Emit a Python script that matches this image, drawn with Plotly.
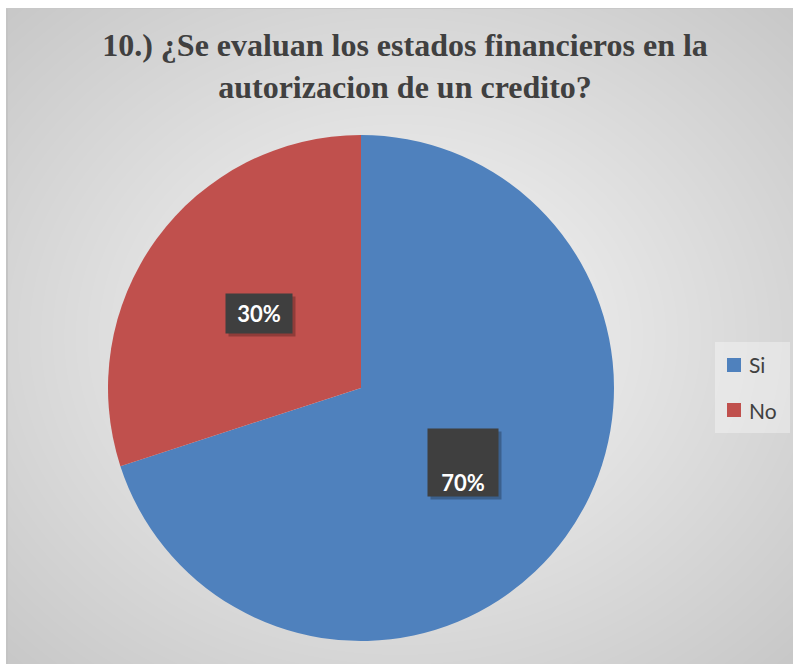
import base64
import math
import struct
import zlib

import numpy as np
import plotly.graph_objects as go

# ---------------- data ----------------
labels = ["Si", "No"]
values = [70, 30]
colors = ["#4F81BD", "#C0504D"]
title_lines = ["10.) ¿Se evaluan los estados financieros en la", "autorizacion de un credito?"]

# ---------------- layout constants ----------------
W, H = 793, 664
CX, CY, R = 361, 388, 253  # pie centre / radius in pixels

# ---------------- background radial gradient image ----------------
def png_uri(arr):
    h, w, _ = arr.shape
    raw = b"".join(b"\x00" + arr[i].tobytes() for i in range(h))

    def chunk(tag, data):
        c = struct.pack(">I", len(data)) + tag + data
        return c + struct.pack(">I", zlib.crc32(tag + data) & 0xFFFFFFFF)

    png = b"\x89PNG\r\n\x1a\n"
    png += chunk(b"IHDR", struct.pack(">IIBBBBB", w, h, 8, 2, 0, 0, 0))
    png += chunk(b"IDAT", zlib.compress(raw, 9))
    png += chunk(b"IEND", b"")
    return "data:image/png;base64," + base64.b64encode(png).decode()

BX0, BY0 = 6, 8
bw, bh = W - BX0, H - BY0
yy, xx = np.mgrid[0:bh, 0:bw]
gcx, gcy = bw * 0.5, bh * 0.5
t = np.sqrt(((xx - gcx) / (bw / 2)) ** 2 + ((yy - gcy) / (bh / 2)) ** 2)
g = np.clip(248 - 34 * t, 190, 250).astype(np.uint8)
img = np.stack([g, g, g], axis=-1)
img[:, 0:2] = 196
img[0:1, :] = 200
bg_uri = png_uri(img)

fig = go.Figure()
fig.add_trace(
    go.Pie(
        labels=labels,
        values=values,
        sort=False,
        direction="clockwise",
        rotation=0,
        marker=dict(colors=colors, line=dict(width=0)),
        textinfo="none",
        hoverinfo="label+percent",
        showlegend=False,
        domain=dict(
            x=[(CX - R) / W, (CX + R) / W],
            y=[1 - (CY + R) / H, 1 - (CY - R) / H],
        ),
    )
)

# ---------------- data labels (computed from values) ----------------
total = sum(values)
cum = 0
annotations = []
box_sizes = [(70, 67, "bottom"), (66, 39, "middle")]
for i, v in enumerate(values):
    theta = 2 * math.pi * (cum + v / 2) / total
    cum += v
    px = CX + 0.5 * R * math.sin(theta)
    py = CY - 0.5 * R * math.cos(theta)
    pct = f"{round(100 * v / total)}%"
    bw_, bh_, va = box_sizes[i]
    # shadow
    annotations.append(
        dict(
            x=px / W, y=1 - py / H, xref="paper", yref="paper",
            xanchor="center", yanchor="middle",
            text="", showarrow=False, width=bw_, height=bh_,
            bgcolor="rgba(0,0,0,0.25)", borderpad=0,
            xshift=3, yshift=-3,
        )
    )
    annotations.append(
        dict(
            x=px / W, y=1 - py / H, xref="paper", yref="paper",
            xanchor="center", yanchor="middle",
            text=f"<b>{pct}</b>", showarrow=False, width=bw_, height=bh_,
            valign=va, bgcolor="#3f3f3f", borderpad=0,
            font=dict(family="Lato, Open Sans, sans-serif", size=22, color="white"),
        )
    )

# ---------------- legend (manual, from labels/colors) ----------------
shapes = [
    dict(type="rect", xref="paper", yref="paper",
         x0=715 / W, x1=790 / W, y0=1 - 433 / H, y1=1 - 342 / H,
         fillcolor="rgba(255,255,255,0.35)", line=dict(width=0), layer="below"),
]
leg_y = [365, 410]
for i, lab in enumerate(labels):
    yc = leg_y[i]
    shapes.append(
        dict(type="rect", xref="paper", yref="paper",
             x0=727 / W, x1=741 / W, y0=1 - (yc + 7) / H, y1=1 - (yc - 7) / H,
             fillcolor=colors[i], line=dict(width=0))
    )
    annotations.append(
        dict(x=747 / W, y=1 - yc / H, xref="paper", yref="paper",
             xanchor="left", yanchor="middle", showarrow=False, text=lab,
             font=dict(family="Lato, Open Sans, sans-serif", size=21, color="#404040"))
    )

fig.update_layout(
    width=W,
    height=H,
    margin=dict(l=0, r=0, t=0, b=0),
    paper_bgcolor="white",
    plot_bgcolor="rgba(0,0,0,0)",
    title=dict(
        text="<b>" + "<br>".join(title_lines) + "</b>",
        x=405 / W, xanchor="center",
        y=1 - 56 / H, yanchor="top", yref="container",
        font=dict(family="Liberation Serif, Times New Roman, serif", size=32, color="#404040"),
    ),
    images=[
        dict(source=bg_uri, xref="paper", yref="paper",
             x=BX0 / W, y=1 - BY0 / H, sizex=bw / W, sizey=bh / H,
             xanchor="left", yanchor="top", sizing="stretch", layer="below")
    ],
    shapes=shapes,
    annotations=annotations,
    showlegend=False,
)

fig.write_html("out.html", config={"displayModeBar": False})

# remove default page margin so the figure fills the window exactly
with open("out.html", "r", encoding="utf-8") as f:
    html = f.read()
html = html.replace("<head>", "<head><style>html,body{margin:0;padding:0;overflow:hidden;}</style>", 1)
with open("out.html", "w", encoding="utf-8") as f:
    f.write(html)
